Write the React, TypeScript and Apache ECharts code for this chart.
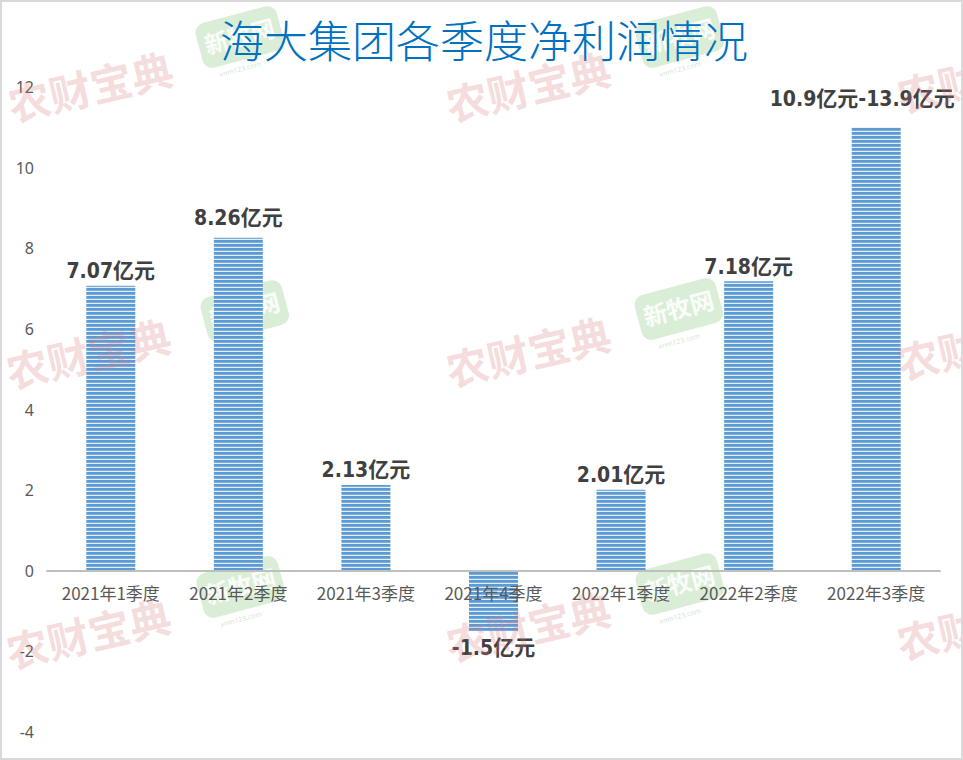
import React, { useEffect, useRef } from "react";
import * as echarts from "echarts";

const categories = ["2021年1季度", "2021年2季度", "2021年3季度", "2021年4季度", "2022年1季度", "2022年2季度", "2022年3季度"];
const profits = [7.07, 8.26, 2.13, -1.5, 2.01, 7.18, 11.0];
const labelTexts = ["7.07亿元", "8.26亿元", "2.13亿元", "-1.5亿元", "2.01亿元", "7.18亿元", "10.9亿元-13.9亿元"];
const yTicks = { min: -4, max: 12, interval: 2 };
const titleText = "海大集团各季度净利润情况";

function makeStripe(): HTMLCanvasElement {
  const c = document.createElement("canvas");
  c.width = 4;
  c.height = 4;
  const ctx = c.getContext("2d")!;
  const rows = ["#5b9bd5", "#5b9bd5", "#7aaedd", "#e6eff9"];
  rows.forEach((col, i) => {
    ctx.fillStyle = col;
    ctx.fillRect(0, i, 4, 1);
  });
  return c;
}

function pinkMark(x: number, y: number, text = "农财宝典", align = "center"): any {
  return {
    type: "text",
    x,
    y,
    rotation: (13 * Math.PI) / 180,
    z: 100,
    silent: true,
    style: {
      text,
      fill: "rgba(215, 120, 120, 0.25)",
      font: "bold 42px 'Noto Sans CJK SC'",
      align,
      verticalAlign: "middle",
    },
  };
}

function greenMark(x: number, y: number): any {
  return {
    type: "group",
    x,
    y,
    rotation: (15 * Math.PI) / 180,
    z: 100,
    silent: true,
    children: [
      {
        type: "rect",
        shape: { x: -42, y: -24, width: 84, height: 46, r: 10 },
        style: { fill: "rgba(150, 205, 140, 0.35)" },
      },
      {
        type: "text",
        x: 0,
        y: -3,
        style: {
          text: "新牧网",
          fill: "rgba(255,255,255,0.9)",
          font: "bold 24px 'Noto Sans CJK SC'",
          align: "center",
          verticalAlign: "middle",
        },
      },
      {
        type: "text",
        x: -8,
        y: 30,
        style: {
          text: "xnm123.com",
          fill: "rgba(150, 190, 150, 0.45)",
          font: "7px 'Noto Sans'",
          align: "center",
          verticalAlign: "middle",
        },
      },
    ],
  };
}

export default function App() {
  const ref = useRef<HTMLDivElement>(null);

  useEffect(() => {
    document.body.style.margin = "0";
    if (!ref.current) return;
    const chart = echarts.init(ref.current, null, { renderer: "svg" });
    const stripe = makeStripe();

    const data = profits.map((v, i) => {
      const item: any = { value: v };
      if (i === 3) {
        item.label = { position: "bottom", distance: 6 };
      } else if (i === 6) {
        item.label = { position: "top", offset: [-14, -14] };
      } else if (i === 1) {
        item.label = { position: "top", distance: 9 };
      }
      return item;
    });

    const pinkPos: [number, number][] = [
      [90, 85], [528, 85],
      [88, 352], [528, 350],
      [88, 632], [528, 625],
    ];
    const pinkEdgePos: [number, number][] = [
      [897, 95], [897, 362], [897, 642],
    ];
    const greenPos: [number, number][] = [
      [240, 38], [680, 38],
      [245, 312], [679, 310],
      [241, 588], [680, 585],
    ];

    const gridTop = 87;
    const gridBottom = 28;
    const plotH = 760 - gridTop - gridBottom;
    const zeroFromBottom = (plotH * (0 - yTicks.min)) / (yTicks.max - yTicks.min);

    chart.setOption({
      animation: false,
      backgroundColor: "#ffffff",
      title: {
        text: titleText,
        left: 479,
        top: 12,
        textAlign: "center",
        textStyle: {
          color: "#0070c0",
          fontSize: 44,
          fontWeight: 300,
          fontFamily: "'Noto Sans CJK SC'",
        },
      },
      grid: { left: 47, right: 23, top: gridTop, bottom: gridBottom, containLabel: false },
      xAxis: [
        {
          type: "category",
          data: categories,
          z: 5,
          axisLine: { show: true, onZero: true, lineStyle: { color: "#bfbfbf", width: 2 } },
          axisTick: { show: false },
          axisLabel: { show: false },
        },
        {
          type: "category",
          data: categories,
          position: "bottom",
          offset: -zeroFromBottom,
          z: 5,
          axisLine: { show: false, onZero: false },
          axisTick: { show: false },
          axisLabel: {
            color: "#595959",
            fontSize: 17,
            fontFamily: "'Noto Sans CJK SC'",
            margin: 13,
            interval: 0,
          },
        },
      ],
      yAxis: {
        type: "value",
        min: yTicks.min,
        max: yTicks.max,
        interval: yTicks.interval,
        axisLine: { show: false },
        axisTick: { show: false },
        splitLine: { show: false },
        axisLabel: {
          color: "#595959",
          fontSize: 16,
          fontFamily: "'Noto Sans'",
          margin: 13,
        },
      },
      series: [
        {
          type: "bar",
          xAxisIndex: 0,
          data,
          barWidth: 49,
          itemStyle: {
            color: { image: stripe, repeat: "repeat" } as any,
          },
          label: {
            show: true,
            position: "top",
            distance: 4,
            color: "#404040",
            fontSize: 21,
            fontWeight: "bold",
            fontFamily: "'DejaVu Sans Condensed', 'Liberation Sans Narrow', 'Noto Sans CJK SC', sans-serif",
            formatter: (p: any) => labelTexts[p.dataIndex],
          },
        },
      ],
      graphic: [
        {
          type: "rect",
          shape: { x: 1, y: 1, width: 961, height: 758 },
          style: { fill: "none", stroke: "#d9d9d9", lineWidth: 2 },
          z: 200,
          silent: true,
        },
        ...pinkPos.map(([x, y]) => pinkMark(x, y)),
        ...pinkEdgePos.map(([x, y]) => pinkMark(x, y, "农财", "left")),
        ...greenPos.map(([x, y]) => greenMark(x, y)),
      ],
    });

    return () => chart.dispose();
  }, []);

  return <div ref={ref} style={{ width: 963, height: 760 }} />;
}
